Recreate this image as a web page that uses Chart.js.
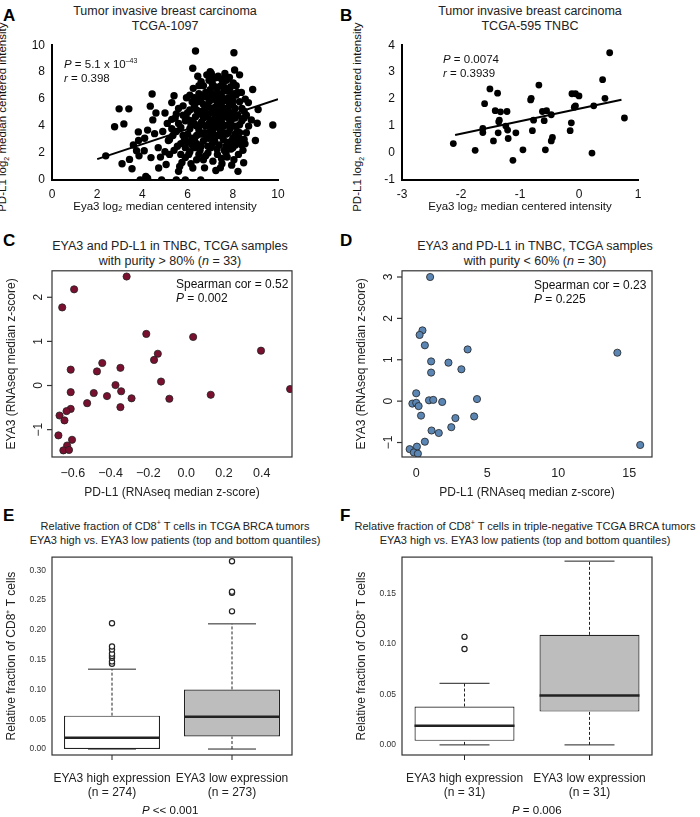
<!DOCTYPE html>
<html>
<head>
<meta charset="utf-8">
<script src="https://cdn.jsdelivr.net/npm/chart.js@4"></script>
<style>
  body { margin: 0; background: #fff; font-family: "Liberation Sans", Arial, sans-serif; }
  #page { position: relative; width: 700px; height: 817px; }
  .cv { position: absolute; }
  .t { position: absolute; text-align: center; font-size: 12.5px; line-height: 15px; color: #222; }
  .lt { position: absolute; font-weight: bold; font-size: 17px; }
  .s { position: absolute; font-size: 11.5px; color: #111; line-height: 14px; }
  .yt { position: absolute; width: 200px; text-align: center; font-size: 11.5px; color: #111;
        transform: rotate(-90deg); transform-origin: center center; white-space: nowrap; }
</style>
</head>
<body>
<div id="page">
  <div class="lt" style="left:3px;top:6px">A</div>
  <div class="lt" style="left:340px;top:6px">B</div>
  <div class="lt" style="left:3px;top:231px">C</div>
  <div class="lt" style="left:340px;top:231px">D</div>
  <div class="lt" style="left:3px;top:506px">E</div>
  <div class="lt" style="left:340px;top:506px">F</div>

  <div class="t" style="left:40px;width:250px;top:4px">Tumor invasive breast carcinoma<br>TCGA-1097</div>
  <div class="t" style="left:405px;width:250px;top:4px">Tumor invasive breast carcinoma<br>TCGA-595 TNBC</div>
  <div class="t" style="left:30px;width:280px;top:239px">EYA3 and PD-L1 in TNBC, TCGA samples<br>with purity &gt; 80% (<i>n</i> = 33)</div>
  <div class="t" style="left:395px;width:280px;top:239px">EYA3 and PD-L1 in TNBC, TCGA samples<br>with purity &lt; 60% (<i>n</i> = 30)</div>
  <div class="t" style="left:10px;width:330px;top:516px;font-size:11px;line-height:14px">Relative fraction of CD8<sup style="font-size:7px">+</sup> T cells in TCGA BRCA tumors<br>EYA3 high vs. EYA3 low patients (top and bottom quantiles)</div>
  <div class="t" style="left:345px;width:360px;top:516px;font-size:11px;line-height:14px;white-space:nowrap">Relative fraction of CD8<sup style="font-size:7px">+</sup> T cells in triple-negative TCGA BRCA tumors<br>EYA3 high vs. EYA3 low patients (top and bottom quantiles)</div>

  <div class="yt" style="left:-97px;top:110px">PD-L1 log<sub style="font-size:7px">2</sub> median centered intensity</div>
  <div class="yt" style="left:258px;top:110px">PD-L1 log<sub style="font-size:7px">2</sub> median centered intensity</div>

  <canvas id="cA" class="cv" style="left:0;top:36px" width="290" height="180"></canvas>
  <canvas id="cB" class="cv" style="left:350px;top:36px" width="300" height="180"></canvas>
  <canvas id="cC" class="cv" style="left:0;top:266px" width="300" height="235"></canvas>
  <canvas id="cD" class="cv" style="left:350px;top:266px" width="310" height="235"></canvas>
  <canvas id="cE" class="cv" style="left:0;top:550px" width="300" height="255"></canvas>
  <canvas id="cF" class="cv" style="left:350px;top:550px" width="310" height="255"></canvas>

  <div class="s" style="left:64px;top:54px"><i>P</i> = 5.1 x 10<sup style="font-size:7px">–43</sup><br><i>r</i> = 0.398</div>
  <div class="s" style="left:443px;top:52px"><i>P</i> = 0.0074<br><i>r</i> = 0.3939</div>
  <div class="s" style="left:176px;top:277px;font-size:12px">Spearman cor = 0.52<br><i>P</i> = 0.002</div>
  <div class="s" style="left:534px;top:278px;font-size:12px">Spearman cor = 0.23<br><i>P</i> = 0.225</div>
  <div class="s" style="left:142px;top:803px"><i>P</i> &lt;&lt; 0.001</div>
  <div class="s" style="left:512px;top:803px"><i>P</i> = 0.006</div>
</div>
<script>
// panel A: Eya3 vs PD-L1, TCGA-1097 (estimated, dense core approximated)
const pointsA = [
  [2.97,5.28],[2.77,3.95],[2.38,1.79],[3.18,4.16],[3.43,1.53],[3.54,0.84],[3.4,5.28],[3.82,3.57],
  [3.83,2.93],[3.74,2.17],[3.85,1.79],[3.9,0],[4.15,0.26],[4.23,0.13],[4.43,6.38],[4.35,5.48],
  [4.46,4.46],[4.6,4.97],[4.54,3.44],[4.23,3.7],[4.08,2.17],[4.38,1.66],[4.72,0.89],[4.85,0],
  [5.05,1.15],[5.15,2.93],[5.0,4.97],[5.3,5.74],[5.4,6.25],[5.5,0],[5.6,0.64],[5.9,0],
  [6.35,9.57],[5.9,1.66],[6.23,8.29],[6.23,0.89],[6.58,0],[7.0,8.04],[7.15,7.53],[8.05,9.44],
  [8.08,8.16],[8.23,0.64],[8.48,1.28],[8.69,5.74],[8.88,6.71],[9.12,5.23],[9.08,4.21],[9.77,4.08],
  [8.54,2.68],[9.0,2.93],[8.82,4.46],[8.38,6.5],[3.1,1.2],[3.6,2.6],[4.1,3.1],[4.7,2.4],
  [4.9,3.6],[5.1,4.2],[5.2,1.9],[5.35,3.3],[5.45,4.6],[5.55,2.5],[5.6,5.3],[5.7,3.9],
  [5.75,1.3],[5.8,4.8],[5.85,2.9],[5.95,6.1],[6.0,3.4],[6.05,1.9],[6.1,5.2],[6.15,4.1],
  [6.2,2.6],[6.25,6.8],[6.3,3.0],[6.35,4.7],[6.4,1.5],[6.45,5.8],[6.5,3.7],[6.55,2.2],
  [6.6,7.3],[6.62,4.3],[6.65,5.1],[6.7,2.9],[6.72,6.2],[6.75,3.5],[6.8,1.8],[6.82,4.9],
  [6.85,7.8],[6.9,5.6],[6.92,3.1],[6.95,4.2],[7.0,6.7],[7.02,2.4],[7.05,5.0],[7.08,3.8],
  [7.1,7.1],[7.12,1.4],[7.15,4.5],[7.18,6.0],[7.2,2.9],[7.22,5.4],[7.25,3.3],[7.28,7.6],
  [7.3,4.0],[7.32,1.9],[7.35,6.4],[7.38,4.8],[7.4,2.6],[7.42,5.7],[7.45,3.6],[7.48,7.0],
  [7.5,4.3],[7.52,1.2],[7.55,5.2],[7.58,3.0],[7.6,6.6],[7.62,2.2],[7.65,4.7],[7.68,5.9],
  [7.7,3.4],[7.72,7.4],[7.75,1.7],[7.78,4.1],[7.8,6.1],[7.82,2.8],[7.85,5.0],[7.88,3.8],
  [7.9,6.9],[7.92,2.3],[7.95,4.5],[7.98,5.6],[8.0,3.1],[8.02,7.2],[8.05,1.5],[8.08,4.0],
  [8.1,5.3],[8.12,2.6],[8.15,6.3],[8.2,3.6],[8.22,4.8],[8.25,1.9],[8.3,5.8],[8.35,3.0],
  [8.4,4.4],[8.45,2.2],[8.5,5.1],[8.6,3.5],[8.7,4.0],[8.55,6.0],[6.3,5.5],[6.5,6.4],
  [6.7,7.0],[6.9,2.0],[7.1,3.6],[7.3,5.8],[7.5,6.2],[7.7,2.5],[7.9,4.2],[6.4,3.3],
  [6.6,2.5],[6.8,6.5],[7.0,4.4],[7.2,4.9],[7.4,3.3],[7.6,4.0],[7.8,4.6],[8.0,5.0],
  [6.2,4.4],[6.0,5.0],[5.8,3.3],[5.6,4.2],[5.4,2.2],[5.2,3.0],[5.0,2.1],[4.8,1.7],
  [7.05,7.9],[7.35,7.7],[7.65,7.9],[6.95,7.4],[7.25,6.9],[7.55,7.1],[7.85,7.6],[8.15,7.0],
  [6.75,0.9],[7.25,0.7],[7.45,0.9],[7.95,1.1],[6.15,1.2],[5.65,1.0],[8.3,7.8],[6.45,7.7],
  [6.1,3.8],[6.3,4.2],[6.5,4.9],[6.7,5.6],[6.9,6.1],[7.1,6.4],[7.3,6.8],[7.5,7.5],
  [6.2,3.1],[6.4,2.7],[6.6,3.4],[6.8,4.0],[7.0,3.2],[7.2,3.9],[7.4,4.5],[7.6,5.0],
  [7.8,5.4],[8.0,5.9],[8.2,6.5],[8.4,5.3],[8.3,4.1],[8.1,3.4],[7.9,2.8],[7.7,2.0],
  [7.5,1.6],[7.3,2.3],[7.1,2.7],[6.9,2.5],[6.7,1.5],[6.5,1.9],[6.3,2.4],[6.1,2.1],
  [5.9,2.4],[5.7,2.7],[5.5,3.6],[5.3,4.5],[5.9,4.4],[6.1,6.3],[6.3,6.1],[6.5,7.0],
  [6.7,4.6],[6.9,4.7],[7.1,5.3],[7.3,5.1],[7.5,5.5],[7.7,5.2],[7.9,5.6],[8.1,4.6],
  [8.3,3.5],[8.5,4.6],[8.5,3.0],[8.6,4.8],[7.0,5.9],[7.2,6.3],[7.4,6.0],[7.6,6.9],
  [7.8,6.6],[8.0,6.4],[6.6,6.0],[6.8,5.3],[6.4,5.2],[6.2,5.8],[6.0,4.5],[5.8,5.5],
  [5.5,4.9],[5.3,3.8],[5.7,1.9],[5.9,3.0],[6.6,4.1],[7.0,3.6],[7.4,4.1],[7.8,3.5],
  [8.2,3.0],[8.4,2.6],[7.6,3.5],[7.2,4.2],[6.8,3.3],[6.4,4.0],[6.0,2.8],[8.0,2.4]
];
const fitA = [[2, 1.55], [10, 6.0]];

// panel B: TCGA-595 TNBC
const pointsB = [
  [-2.13,0.35],[-1.76,0.10],[-1.63,0.91],[-1.63,0.76],[-1.6,1.83],[-1.51,2.38],[-1.45,0.45],[-1.42,1.57],
  [-1.38,2.22],[-1.37,0.75],[-1.36,1.16],[-1.35,1.22],[-1.33,1.53],[-1.22,1.54],[-1.24,1.0],[-1.21,0.85],
  [-1.2,0.54],[-1.12,-0.27],[-1.07,0.75],[-0.95,0.12],[-0.82,1.97],[-0.81,2.03],[-0.79,0.83],[-0.77,1.22],
  [-0.68,2.52],[-0.62,1.54],[-0.59,1.2],[-0.57,0.12],[-0.55,1.57],[-0.47,1.42],[-0.47,0.45],[-0.45,0.58],
  [-0.15,0.83],[-0.13,1.12],[-0.12,2.2],[-0.08,1.7],[-0.06,2.2],[0.0,2.12],[0.22,0.0],[0.25,1.75],
  [0.4,2.72],[0.44,2.03],[0.52,3.72],[0.77,1.3],[-0.06,1.75]
];
const fitB = [[-2.1, 0.67], [0.72, 1.98]];

// panel C: purity > 80%
const pointsC = [
  [-0.315,2.47],[-0.593,2.18],[-0.656,1.77],[-0.211,1.17],[0.037,1.10],[0.396,0.79],[-0.15,0.72],[-0.17,0.58],
  [-0.444,0.51],[-0.611,0.36],[-0.472,0.32],[-0.348,0.40],[-0.133,0.09],[-0.374,0.01],[-0.344,-0.13],[-0.611,-0.15],
  [-0.489,-0.17],[-0.419,-0.24],[-0.289,-0.29],[-0.089,-0.30],[0.13,-0.21],[0.55,-0.08],[-0.524,-0.40],[-0.348,-0.49],
  [-0.611,-0.53],[-0.633,-0.58],[-0.67,-0.68],[-0.644,-0.79],[-0.676,-1.13],[-0.604,-1.23],[-0.63,-1.36],[-0.65,-1.47],
  [-0.62,-1.46]
];
const ticksCx = [-0.6, -0.4, -0.2, 0.0, 0.2, 0.4];
const ticksCy = [-1, 0, 1, 2];

// panel D: purity < 60%
const pointsD = [
  [0.98,3.0],[0.44,1.71],[0.24,1.60],[0.61,1.35],[3.62,1.25],[14.16,1.17],[1.05,0.96],[2.27,0.93],
  [3.18,0.77],[1.05,0.69],[0,0.19],[-0.27,-0.06],[0,-0.04],[0.17,-0.12],[0.9,0.02],[1.2,0.03],
  [1.83,-0.02],[4.28,0.05],[0.34,-0.35],[2.76,-0.41],[4.08,-0.37],[2.47,-0.63],[1.08,-0.71],[1.59,-0.77],
  [0.61,-0.98],[15.77,-1.06],[-0.46,-1.16],[0.05,-1.1],[-0.17,-1.24],[0.12,-1.27]
];
const ticksDx = [0, 5, 10, 15];
const ticksDy = [-1, 0, 1, 2, 3];

// box plots: [whiskerLow, q1, median, q3, whiskerHigh]
const groupKeys = ['high', 'low'];
const groupsE = [['EYA3 high expression', '(n = 274)'], ['EYA3 low expression', '(n = 273)']];
const groupsF = [['EYA3 high expression', '(n = 31)'], ['EYA3 low expression', '(n = 31)']];
const boxE = [[0, 0, 0.019, 0.056, 0.134], [0, 0.021, 0.054, 0.100, 0.210]];
const outE = [[0.143,0.147,0.153,0.156,0.160,0.167,0.172,0.211], [0.231,0.262,0.264,0.315]];
const boxF = [[0, 0.004, 0.019, 0.038, 0.061], [0, 0.033, 0.049, 0.109, 0.182]];
const outF = [[0.095,0.107], []];
const ticksE = [0, 0.05, 0.10, 0.15, 0.20, 0.25, 0.30];
const ticksF = [0, 0.05, 0.10, 0.15];
const boxColors = ['#ffffff', '#bdbdbd'];

const FONT = 'Liberation Sans';
Chart.defaults.font.family = FONT;
Chart.defaults.color = '#222';
Chart.defaults.animation = false;
Chart.defaults.plugins.legend.display = false;
Chart.defaults.plugins.tooltip.enabled = false;

const xy = arr => arr.map(p => ({x: p[0], y: p[1]}));
const setTicks = vals => s => { s.ticks = vals.map(v => ({value: v})); };

function fixAxis(w) {
  return function (scale) {
    if (scale.isHorizontal()) scale.height = w; else scale.width = w;
  };
}

// GraphPad style panels (A, B); y title is an html label
function prismChart(id, pts, fit, xr, xStep, yr, yStep, radius) {
  const axis = (min, max, step, title, size) => ({
    type: 'linear', min: min, max: max,
    grid: { display: false, drawTicks: true, tickLength: 5, tickColor: '#000' },
    border: { color: '#000', width: 2 },
    ticks: { stepSize: step, font: { size: 12 }, color: '#111', padding: 2 },
    title: { display: !!title, text: title, font: { size: 11.5 }, color: '#111', padding: 2 },
    afterFit: fixAxis(size)
  });
  new Chart(document.getElementById(id), {
    type: 'scatter',
    data: { datasets: [
      { data: xy(pts), backgroundColor: '#000', borderWidth: 0, pointRadius: radius },
      { type: 'line', data: xy(fit), borderColor: '#000', borderWidth: 2, pointRadius: 0 }
    ]},
    options: {
      responsive: false,
      layout: { padding: { top: 6, right: 12 } },
      scales: {
        x: axis(xr[0], xr[1], xStep, 'Eya3 log\u2082 median centered intensity', 36),
        y: axis(yr[0], yr[1], yStep, '', 52)
      }
    }
  });
}
prismChart('cA', pointsA, fitA, [0, 10], 2, [0, 10], 2, 3.7);
prismChart('cB', pointsB, fitB, [-3, 1], 1, [-1, 4], 1, 3.4);

// R style: frame box and rotated y tick labels
const frameBox = {
  id: 'frameBox',
  afterDraw(chart) {
    const a = chart.chartArea, ctx = chart.ctx;
    ctx.save();
    ctx.strokeStyle = '#333'; ctx.lineWidth = 1.2;
    ctx.strokeRect(a.left, a.top, a.right - a.left, a.bottom - a.top);
    if (chart.options.rotY) {
      const y = chart.scales.y;
      ctx.fillStyle = '#222';
      ctx.font = '12px ' + FONT;
      ctx.textAlign = 'center'; ctx.textBaseline = 'bottom';
      y.ticks.forEach(t => {
        const py = y.getPixelForValue(t.value);
        ctx.beginPath(); ctx.moveTo(a.left, py); ctx.lineTo(a.left - 5, py); ctx.stroke();
        ctx.save();
        ctx.translate(a.left - 7, py);
        ctx.rotate(-Math.PI / 2);
        ctx.fillText(t.value < 0 ? '\u2212' + Math.abs(t.value) : String(t.value), 0, 0);
        ctx.restore();
      });
    }
    ctx.restore();
  }
};

function rChart(id, pts, color, xr, xt, yr, yt, xDec) {
  new Chart(document.getElementById(id), {
    type: 'scatter',
    data: { datasets: [
      { data: xy(pts), backgroundColor: color, borderColor: '#222', borderWidth: 0.8, pointRadius: 3.6 }
    ]},
    options: {
      responsive: false,
      rotY: true,
      layout: { padding: { top: 4, right: 8 } },
      scales: {
        x: { type: 'linear', min: xr[0], max: xr[1],
          grid: { display: false, drawOnChartArea: false, tickLength: 5, tickColor: '#333' },
          border: { display: false },
          afterBuildTicks: setTicks(xt),
          ticks: { font: { size: 12.5 }, color: '#222', padding: 4, maxRotation: 0, autoSkip: false,
            callback: v => (v < 0 ? '\u2212' : '') + Math.abs(v).toFixed(xDec) },
          title: { display: true, text: 'PD-L1 (RNAseq median z-score)', font: { size: 12 }, padding: 1 },
          afterFit: fixAxis(44)
        },
        y: { type: 'linear', min: yr[0], max: yr[1],
          grid: { display: false }, border: { display: false },
          ticks: { display: false },
          afterBuildTicks: setTicks(yt),
          title: { display: true, text: 'EYA3 (RNAseq median z-score)', font: { size: 12 }, padding: { bottom: 18 } },
          afterFit: fixAxis(52)
        }
      }
    },
    plugins: [frameBox]
  });
}
rChart('cC', pointsC, '#7a1030', [-0.71, 0.56], ticksCx, [-1.62, 2.6], ticksCy, 1);
rChart('cD', pointsD, '#5b86b4', [-1.0, 16.6], ticksDx, [-1.35, 3.15], ticksDy, 0);

// box plots
const boxDraw = {
  id: 'boxDraw',
  afterDatasetsDraw(chart) {
    const boxes = chart.options.boxes, ctx = chart.ctx;
    const y = chart.scales.y;
    const meta = chart.getDatasetMeta(0);
    ctx.save();
    boxes.forEach((b, i) => {
      const bar = meta.data[i];
      const cx = bar.x, hw = bar.width / 2;
      ctx.strokeStyle = '#222'; ctx.lineWidth = 1;
      ctx.setLineDash([3, 2]);
      ctx.beginPath();
      ctx.moveTo(cx, y.getPixelForValue(b[0])); ctx.lineTo(cx, y.getPixelForValue(b[1]));
      ctx.moveTo(cx, y.getPixelForValue(b[3])); ctx.lineTo(cx, y.getPixelForValue(b[4]));
      ctx.stroke();
      ctx.setLineDash([]);
      ctx.beginPath();
      [b[0], b[4]].forEach(v => {
        const py = y.getPixelForValue(v);
        ctx.moveTo(cx - hw / 2, py); ctx.lineTo(cx + hw / 2, py);
      });
      ctx.stroke();
      ctx.lineWidth = 2.5;
      ctx.beginPath();
      const pm = y.getPixelForValue(b[2]);
      ctx.moveTo(cx - hw, pm); ctx.lineTo(cx + hw, pm);
      ctx.stroke();
      ctx.lineWidth = 1;
      ctx.beginPath();
      ctx.moveTo(cx, chart.chartArea.bottom); ctx.lineTo(cx, chart.chartArea.bottom + 5);
      ctx.stroke();
    });
    ctx.restore();
  }
};

function boxChart(id, labels, boxes, outs, ymax, yt) {
  const outliers = [];
  outs.forEach((o, i) => o.forEach(v => outliers.push({x: groupKeys[i], y: v})));
  new Chart(document.getElementById(id), {
    type: 'bar',
    data: {
      labels: groupKeys,
      datasets: [
        { data: boxes.map(b => [b[1], b[3]]), backgroundColor: boxColors, borderColor: '#222',
          borderWidth: 1.2, borderSkipped: false, barPercentage: 0.8, categoryPercentage: 1, order: 2 },
        { type: 'scatter', data: outliers, pointRadius: 2.6, pointBorderWidth: 1.2,
          pointBackgroundColor: '#fff', pointBorderColor: '#222', order: 1 }
      ]
    },
    options: {
      responsive: false,
      boxes: boxes,
      layout: { padding: { top: 4, right: 8 } },
      scales: {
        x: { type: 'category', offset: true, grid: { display: false }, border: { display: false },
          ticks: { font: { size: 12 }, color: '#222', padding: 8, maxRotation: 0, minRotation: 0, autoSkip: false,
            callback: (v, i) => labels[i] },
          afterFit: fixAxis(50)
        },
        y: { min: -0.01, max: ymax,
          grid: { display: false, drawOnChartArea: false, tickLength: 4, tickColor: '#333' },
          border: { display: false },
          afterBuildTicks: setTicks(yt),
          ticks: { font: { size: 8.5 }, color: '#333', padding: 2,
            callback: v => v.toFixed(2) },
          title: { display: true, text: 'Relative fraction of CD8\u207A T cells', font: { size: 12 }, padding: { bottom: 4 } },
          afterFit: fixAxis(52)
        }
      }
    },
    plugins: [boxDraw, frameBox]
  });
}
boxChart('cE', groupsE, boxE, outE, 0.322, ticksE);
boxChart('cF', groupsF, boxF, outF, 0.186, ticksF);
</script>
</body>
</html>
